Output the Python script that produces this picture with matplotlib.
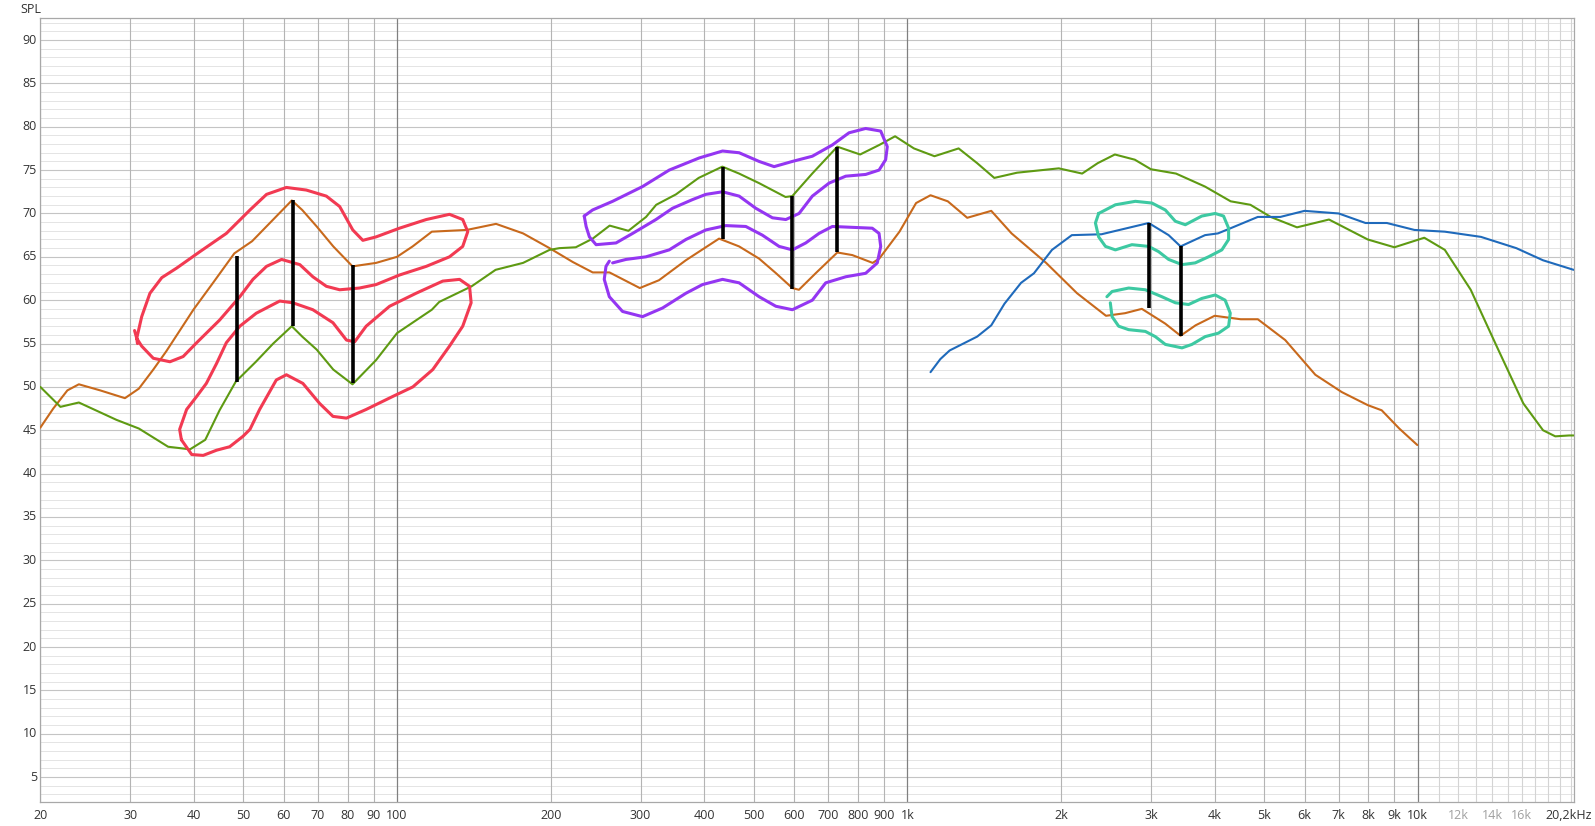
import numpy as np
import matplotlib
matplotlib.use("Agg")
import matplotlib.pyplot as plt
from matplotlib.transforms import blended_transform_factory, ScaledTranslation

plt.rcParams['font.family'] = ['Open Sans', 'DejaVu Sans']
plt.rcParams['lines.solid_joinstyle'] = 'round'
plt.rcParams['lines.solid_capstyle'] = 'round'

# --- measured curves (Hz, dB SPL) ---
orange_f = [20, 21.2, 22.6, 23.8, 26.2, 29.3, 31.2, 33.3, 35.3, 39.9, 43.6, 48.0, 52.0, 57.2, 62.2,
            65.2, 69.6, 75.0, 81.8, 91, 100, 107.3, 117, 137, 156.3, 176.6, 199, 221, 241.8, 260.8,
            299, 326, 368, 427.6, 468, 512, 553, 595, 613, 661, 729, 780, 855, 881, 965, 1040,
            1110, 1200, 1310, 1460, 1600, 1870, 2150, 2450, 2670, 2880, 3200, 3430, 3670, 4000,
            4500, 4860, 5500, 6300, 7100, 7980, 8500, 9200, 9980]
orange_db = [45.3, 47.5, 49.6, 50.3, 49.6, 48.7, 49.8, 52.0, 54.1, 58.9, 62.0, 65.4, 66.8, 69.3, 71.5,
             70.4, 68.5, 66.2, 63.9, 64.3, 65.0, 66.2, 67.9, 68.1, 68.8, 67.7, 66.0, 64.4, 63.2, 63.2,
             61.4, 62.3, 64.6, 67.1, 66.2, 64.8, 63.1, 61.4, 61.2, 63.1, 65.5, 65.2, 64.3, 64.8, 67.9, 71.2,
             72.1, 71.4, 69.5, 70.3, 67.7, 64.3, 60.8, 58.2, 58.5, 59.0, 57.3, 55.9, 57.1, 58.2,
             57.8, 57.8, 55.4, 51.4, 49.4, 47.9, 47.3, 45.2, 43.3]

green_f = [20, 21.9, 23.8, 28.2, 31.2, 35.6, 39.3, 42.1, 44.9, 48.3, 52.9, 57.2, 62.2, 65.2, 69.6,
           75.0, 81.8, 91, 100, 117, 121, 140, 156, 176.6, 199, 208, 224, 241.8, 261, 284, 307.6,
           322, 352, 390, 434, 468, 512, 577, 595, 651, 729, 808, 881, 946, 1030, 1130, 1260, 1370,
           1480, 1640, 1980, 2200, 2360, 2550, 2790, 3000, 3360, 3830, 4300, 4700, 5150, 5800,
           6700, 7980, 9000, 10300, 11300, 12700, 14300, 16100, 17600, 18600, 19800, 20200]
green_db = [50.0, 47.7, 48.2, 46.2, 45.2, 43.1, 42.8, 43.9, 47.3, 50.6, 52.9, 55.0, 57.0, 55.8, 54.3,
            52.0, 50.3, 53.1, 56.2, 58.9, 59.8, 61.6, 63.5, 64.3, 65.8, 66.0, 66.1, 67.1, 68.6, 68.0, 69.6,
            71.0, 72.2, 74.1, 75.4, 74.6, 73.5, 71.9, 72.0, 74.6, 77.7, 76.8, 77.9, 78.9, 77.5, 76.6, 77.5, 75.8,
            74.1, 74.7, 75.2, 74.6, 75.8, 76.8, 76.2, 75.1, 74.6, 73.1, 71.4, 71.0, 69.6, 68.4,
            69.3, 67.0, 66.1, 67.2, 65.8, 61.2, 54.6, 48.1, 45.0, 44.3, 44.4, 44.4]

blue_f = [1110, 1160, 1210, 1370, 1460, 1550, 1670, 1770, 1920, 2100, 2400, 2970, 3250, 3430, 3830,
          4060, 4300, 4860, 5380, 6000, 7000, 7900, 8700, 9850, 11300, 13300, 15600, 17600, 20200]
blue_db = [51.7, 53.2, 54.2, 55.8, 57.1, 59.6, 62.0, 63.1, 65.8, 67.5, 67.6, 68.9, 67.5, 66.2, 67.5,
           67.7, 68.3, 69.6, 69.6, 70.3, 70.0, 68.9, 68.9, 68.1, 67.9, 67.3, 66.0, 64.6, 63.5]

# --- hand drawn loops (Hz, dB) ---
red_up_f = [30.6, 30.9, 31.6, 32.8, 34.6, 37.0, 41.1, 46.3, 51.5, 55.5, 60.7, 66.4, 72.7, 77.2, 81.9,
            85.7, 91.0, 101.1, 114.1, 126.7, 134.5, 137.6, 134.5, 126.7, 114.1, 101.1, 91.0, 84.4,
            77.2, 72.7, 68.4, 64.5, 59.4, 55.5, 52.2, 49.2, 44.9, 40.5, 38.1, 35.9, 33.3, 31.6, 30.9, 31.0]
red_up_db = [56.5, 55.6, 58.1, 60.8, 62.6, 63.7, 65.6, 67.7, 70.4, 72.2, 73.0, 72.7, 72.0, 70.8, 68.1,
             66.9, 67.3, 68.3, 69.3, 69.9, 69.3, 67.9, 66.2, 65.0, 63.9, 62.9, 61.8, 61.4,
             61.2, 61.6, 62.7, 64.1, 64.7, 63.9, 62.4, 60.4, 57.7, 55.1, 53.5, 52.9, 53.3, 54.7, 55.6, 55.0]

red_lo_f = [37.8, 37.5, 38.7, 40.5, 42.3, 44.3, 46.3, 49.2, 53.0, 58.9, 62.5, 68.4, 74.9, 79.6, 82.6,
            87.0, 96.7, 109.0, 122.9, 132.6, 138.7, 139.7, 134.5, 126.7, 117.5, 107.4, 98.1, 87.0,
            79.6, 74.9, 70.5, 65.4, 60.7, 58.0, 53.8, 51.5, 49.9, 47.0, 44.3, 41.7, 39.6, 37.8]
red_lo_db = [43.9, 45.1, 47.4, 48.9, 50.4, 52.7, 55.1, 57.0, 58.5, 59.9, 59.7, 58.9, 57.4, 55.4, 55.2,
             57.0, 59.3, 60.8, 62.2, 62.4, 61.6, 59.7, 57.0, 54.7, 52.0, 50.0, 48.9, 47.4,
             46.4, 46.6, 48.1, 50.4, 51.4, 50.8, 47.4, 45.1, 44.3, 43.1, 42.7, 42.1, 42.2, 43.9]

purple_up_f = [232.7, 241.6, 264.5, 302.7, 341.4, 390.9, 434.3, 468.1, 512.2, 548.1, 595.2, 651.3,
               712.8, 768.4, 828.4, 886.6, 913.3, 906.6, 880, 828.4, 757.3, 702.3, 651.3, 613.4,
               577.8, 544.0, 504.6, 468.1, 434.3, 402.8, 379.3, 346.6, 321.6, 289.5, 268.6, 245.5,
               238.2, 234.7, 232.7]
purple_up_db = [69.7, 70.4, 71.4, 73.1, 75.0, 76.4, 77.2, 77.0, 76.0, 75.4, 76.0, 76.6,
                77.9, 79.3, 79.8, 79.5, 77.7, 76.2, 75.0, 74.5, 74.3, 73.5, 72.0, 70.0,
                69.3, 69.5, 70.6, 72.0, 72.5, 72.2, 71.6, 70.6, 69.3, 67.7, 66.6, 66.4,
                67.3, 68.5, 69.7]

purple_lo_f = [260.6, 256.7, 254.7, 260.6, 276.6, 302.7, 331.4, 368.2, 396.8, 434.3, 468.1, 512.2,
               552.4, 595.2, 651.3, 691.8, 757.3, 828.4, 873.0, 886.6, 880, 853.4, 779.8, 712.8,
               671.2, 632.2, 595.2, 560.6, 519.8, 482.4, 440.8, 402.8, 368.2, 341.4, 307.4, 281.0, 264.5]
purple_lo_db = [64.5, 63.9, 62.4, 60.4, 58.7, 58.1, 59.1, 60.8, 61.8, 62.4, 62.0, 60.4,
                59.3, 58.9, 60.0, 62.0, 62.7, 63.1, 64.3, 66.2, 67.7, 68.3, 68.4, 68.5,
                67.7, 66.6, 65.8, 66.2, 67.5, 68.5, 68.6, 68.1, 67.0, 65.8, 65.0, 64.7, 64.3]

teal_up_f = [2370, 2556, 2797, 3014, 3202, 3350, 3504, 3774, 4010, 4164, 4260, 4260, 4132, 3890,
             3664, 3452, 3250, 3106, 2970, 2754, 2556, 2444, 2370, 2336, 2370]
teal_up_db = [70.0, 71.0, 71.4, 71.2, 70.4, 69.1, 68.7, 69.7, 70.0, 69.7, 68.3, 67.0, 65.8, 65.0,
              64.3, 64.1, 64.7, 65.6, 66.2, 66.4, 65.8, 66.2, 67.3, 68.9, 70.0]

teal_lo_f = [2460, 2518, 2714, 2926, 3152, 3350, 3556, 3774, 4010, 4194, 4292, 4260, 4070, 3834,
             3610, 3452, 3202, 3060, 2926, 2714, 2594, 2518, 2498]
teal_lo_db = [60.4, 61.0, 61.4, 61.2, 60.4, 59.7, 59.5, 60.2, 60.6, 60.0, 58.5, 57.0, 56.2, 55.8,
              54.9, 54.5, 54.9, 55.8, 56.4, 56.6, 57.0, 58.1, 59.7]

# --- black markers: frequency, top, bottom ---
mark_f = [48.5, 62.4, 81.8, 436, 595, 729, 2980, 3430]
mark_top = [65.1, 71.5, 64.0, 75.4, 72.0, 77.7, 68.9, 66.2]
mark_bot = [50.6, 57.0, 50.4, 67.1, 61.3, 65.5, 59.1, 55.9]

# --- axis labels ---
xtick_f = [20, 30, 40, 50, 60, 70, 80, 90, 100, 200, 300, 400, 500, 600, 700, 800, 900,
           1000, 2000, 3000, 4000, 5000, 6000, 7000, 8000, 9000, 10000, 12000, 14000, 16000, 20200]
xtick_lab = ['20', '30', '40', '50', '60', '70', '80', '90', '100', '200', '300', '400', '500', '600',
             '700', '800', '900', '1k', '2k', '3k', '4k', '5k', '6k', '7k', '8k', '9k', '10k',
             '12k', '14k', '16k', '20,2kHz']
ytick_v = list(range(5, 95, 5))

fig = plt.figure(figsize=(15.95, 8.26), dpi=100)
ax = fig.add_axes([0.02527, 0.0287, 0.9613, 0.9491])
ax.set_xscale('log')
ax.set_xlim(20, 20200)
ax.set_ylim(2.1, 92.5)

# grid
for v in range(3, 93):
    if v % 5 == 0:
        ax.axhline(v, color='#c4c4c4', lw=0.8, zorder=1)
    else:
        ax.axhline(v, color='#e4e4e4', lw=0.7, zorder=0.5)
for dec in [10, 100, 1000]:
    for m in range(2, 10):
        ax.axvline(dec * m, color='#b4b4b4', lw=0.8, zorder=1)
for dec in [100, 1000, 10000]:
    ax.axvline(dec, color='#808080', lw=0.9, zorder=1.1)
for m in range(11, 21):
    ax.axvline(m * 1000, color='#d4d4d4', lw=0.8, zorder=1)

for s in ax.spines.values():
    s.set_color('#a8a8a8')
    s.set_linewidth(0.9)

ax.set_xticks([])
ax.set_yticks([])
ax.minorticks_off()

trans = blended_transform_factory(ax.transData, ax.transAxes)
for f, lab in zip(xtick_f, xtick_lab):
    col = '#a0a0a0' if lab in ('12k', '14k', '16k') else '#333333'
    t = trans
    if lab == '20,2kHz':
        t = trans + ScaledTranslation(-5 / 100, 0, fig.dpi_scale_trans)
    ax.text(f, -0.008, lab, transform=t, ha='center', va='top', fontsize=9, color=col)
ytr = blended_transform_factory(ax.transAxes, ax.transData)
for v in ytick_v:
    ax.text(-0.0022, v, str(v), transform=ytr, ha='right', va='center', fontsize=9, color='#333333')
fig.text(20 / 1595, 1 - 3 / 826, 'SPL', ha='left', va='top', fontsize=9, color='#333333')

# curves
ax.plot(orange_f, orange_db, color='#c8691c', lw=1.5, zorder=3)
ax.plot(green_f, green_db, color='#5e9a12', lw=1.5, zorder=3)
ax.plot(blue_f, blue_db, color='#1f6abb', lw=1.5, zorder=3)

# loops
ax.plot(red_up_f, red_up_db, color='#f23a52', lw=2.2, zorder=4)
ax.plot(red_lo_f, red_lo_db, color='#f23a52', lw=2.2, zorder=4)
ax.plot(purple_up_f, purple_up_db, color='#9436f2', lw=2.2, zorder=4)
ax.plot(purple_lo_f, purple_lo_db, color='#9436f2', lw=2.2, zorder=4)
ax.plot(teal_up_f, teal_up_db, color='#3dc9a2', lw=2.2, zorder=4)
ax.plot(teal_lo_f, teal_lo_db, color='#3dc9a2', lw=2.2, zorder=4)

ax.vlines(mark_f, mark_bot, mark_top, color='black', lw=2.6, zorder=5, capstyle='butt')

fig.savefig('out.png', dpi=100)
